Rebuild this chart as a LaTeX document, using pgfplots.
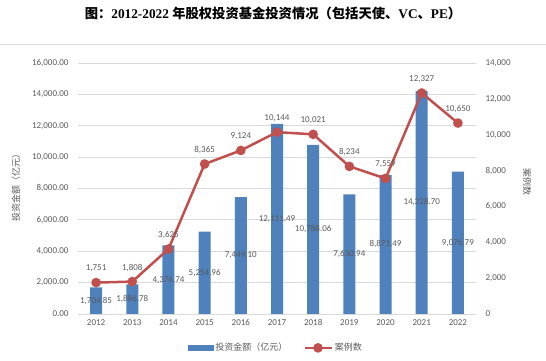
\documentclass[border=0pt]{standalone}
\usepackage{fontspec}
\setmainfont{Carlito}
\newfontfamily\cjk{Noto Sans CJK SC}
\newfontfamily\titlelatin{Liberation Serif}
\usepackage{pgfplots}
\pgfplotsset{compat=1.18}
\usepackage{pgfplotstable}
\definecolor{barblue}{RGB}{79,129,189}
\definecolor{linered}{RGB}{192,80,77}
\definecolor{txtgray}{RGB}{89,89,89}
\definecolor{gridgray}{RGB}{217,217,217}
\pgfplotstableread{
x year amount cases
0 2012 1704.85 1751
1 2013 1886.78 1808
2 2014 4376.74 3625
3 2015 5254.96 8365
4 2016 7449.10 9124
5 2017 12111.49 10144
6 2018 10788.06 10021
7 2019 7630.94 8234
8 2020 8871.49 7559
9 2021 14228.70 12327
10 2022 9076.79 10650
}\data
\begin{document}
\begin{tikzpicture}
\useasboundingbox (0pt,0pt) rectangle (546pt,361pt);
\node[font=\fontsize{13.3}{15}\selectfont\bfseries] at (273pt,348pt)
  {{\cjk 图：}{\titlelatin 2012-2022 }{\cjk 年股权投资基金投资情况（包括天使、}{\titlelatin VC}{\cjk 、}{\titlelatin PE}{\cjk ）}};
\draw[gridgray, line width=0.8pt] (0pt,317pt) -- (546pt,317pt);
\node[rotate=90, text=txtgray, font=\fontsize{9}{10}\selectfont\cjk] at (16pt,175pt) {投资金额（亿元）};
\node[rotate=-90, text=txtgray, font=\fontsize{9}{10}\selectfont\cjk] at (527pt,179pt) {案例数};
\begin{axis}[
  at={(78pt,47pt)}, anchor=south west,
  scale only axis, width=398pt, height=251pt,
  xmin=-0.5, xmax=10.5, ymin=0, ymax=16000,
  axis x line*=bottom, axis y line*=left,
  axis line style={draw=none},
  ytick={0,2000,...,16000},
  xtick={0,...,10},
  xticklabels={2012,2013,2014,2015,2016,2017,2018,2019,2020,2021,2022},
  major tick length=0pt,
  ymajorgrids, grid style={gridgray, line width=0.8pt},
  tick label style={text=txtgray, font=\fontsize{9}{10}\selectfont},
  /pgf/number format/assume math mode=true,
  scaled y ticks=false,
  yticklabel style={xshift=-6pt, /pgf/number format/.cd, fixed, fixed zerofill, precision=2, 1000 sep={,}},
  xticklabel style={yshift=-2pt},
]
\addplot[ybar, bar width=12pt, fill=barblue, draw=none] table[x=x, y=amount]{\data};
\addplot[draw=none, mark=none, point meta=explicit,
  nodes near coords={\pgfmathprintnumber[fixed,fixed zerofill,precision=2,1000 sep={,}]{\pgfplotspointmeta}},
  nodes near coords style={anchor=center, text=txtgray, font=\fontsize{9}{10}\selectfont}]
  table[x=x, y expr=\thisrow{amount}/2, meta=amount]{\data};
\end{axis}
\begin{axis}[
  at={(78pt,47pt)}, anchor=south west,
  scale only axis, width=398pt, height=251pt,
  xmin=-0.5, xmax=10.5, ymin=0, ymax=14000,
  axis y line*=right, axis x line=none,
  axis line style={draw=none},
  ytick={0,2000,...,14000},
  major tick length=0pt,
  clip=false,
  tick label style={text=txtgray, font=\fontsize{9}{10}\selectfont},
  /pgf/number format/assume math mode=true,
  scaled y ticks=false,
  yticklabel style={xshift=6pt, /pgf/number format/.cd, fixed, precision=0, 1000 sep={,}},
  legend style={at={(0.497,-0.135)}, anchor=center, draw=none, fill=none,
    font=\fontsize{9}{10}\selectfont\cjk, text=txtgray,
    /tikz/every even column/.append style={column sep=14pt}},
  legend columns=2,
]
\addlegendimage{legend image code/.code={\fill[barblue] (0pt,-2.5pt) rectangle (25pt,2.5pt);}}
\addlegendentry{投资金额（亿元）}
\addplot[linered, line width=2.5pt, mark=*, mark size=3.5pt, point meta=explicit,
  legend image code/.code={\draw[linered, line width=2.5pt] (0pt,0pt) -- (27pt,0pt); \fill[linered] (13.5pt,0pt) circle (3.5pt);},
  nodes near coords={\pgfmathprintnumber[fixed,precision=0,1000 sep={,}]{\pgfplotspointmeta}},
  nodes near coords style={anchor=center, yshift=14pt, text=txtgray, font=\fontsize{9}{10}\selectfont}]
  table[x=x, y=cases, meta=cases]{\data};
\addlegendentry{案例数}
\end{axis}
\end{tikzpicture}
\end{document}
